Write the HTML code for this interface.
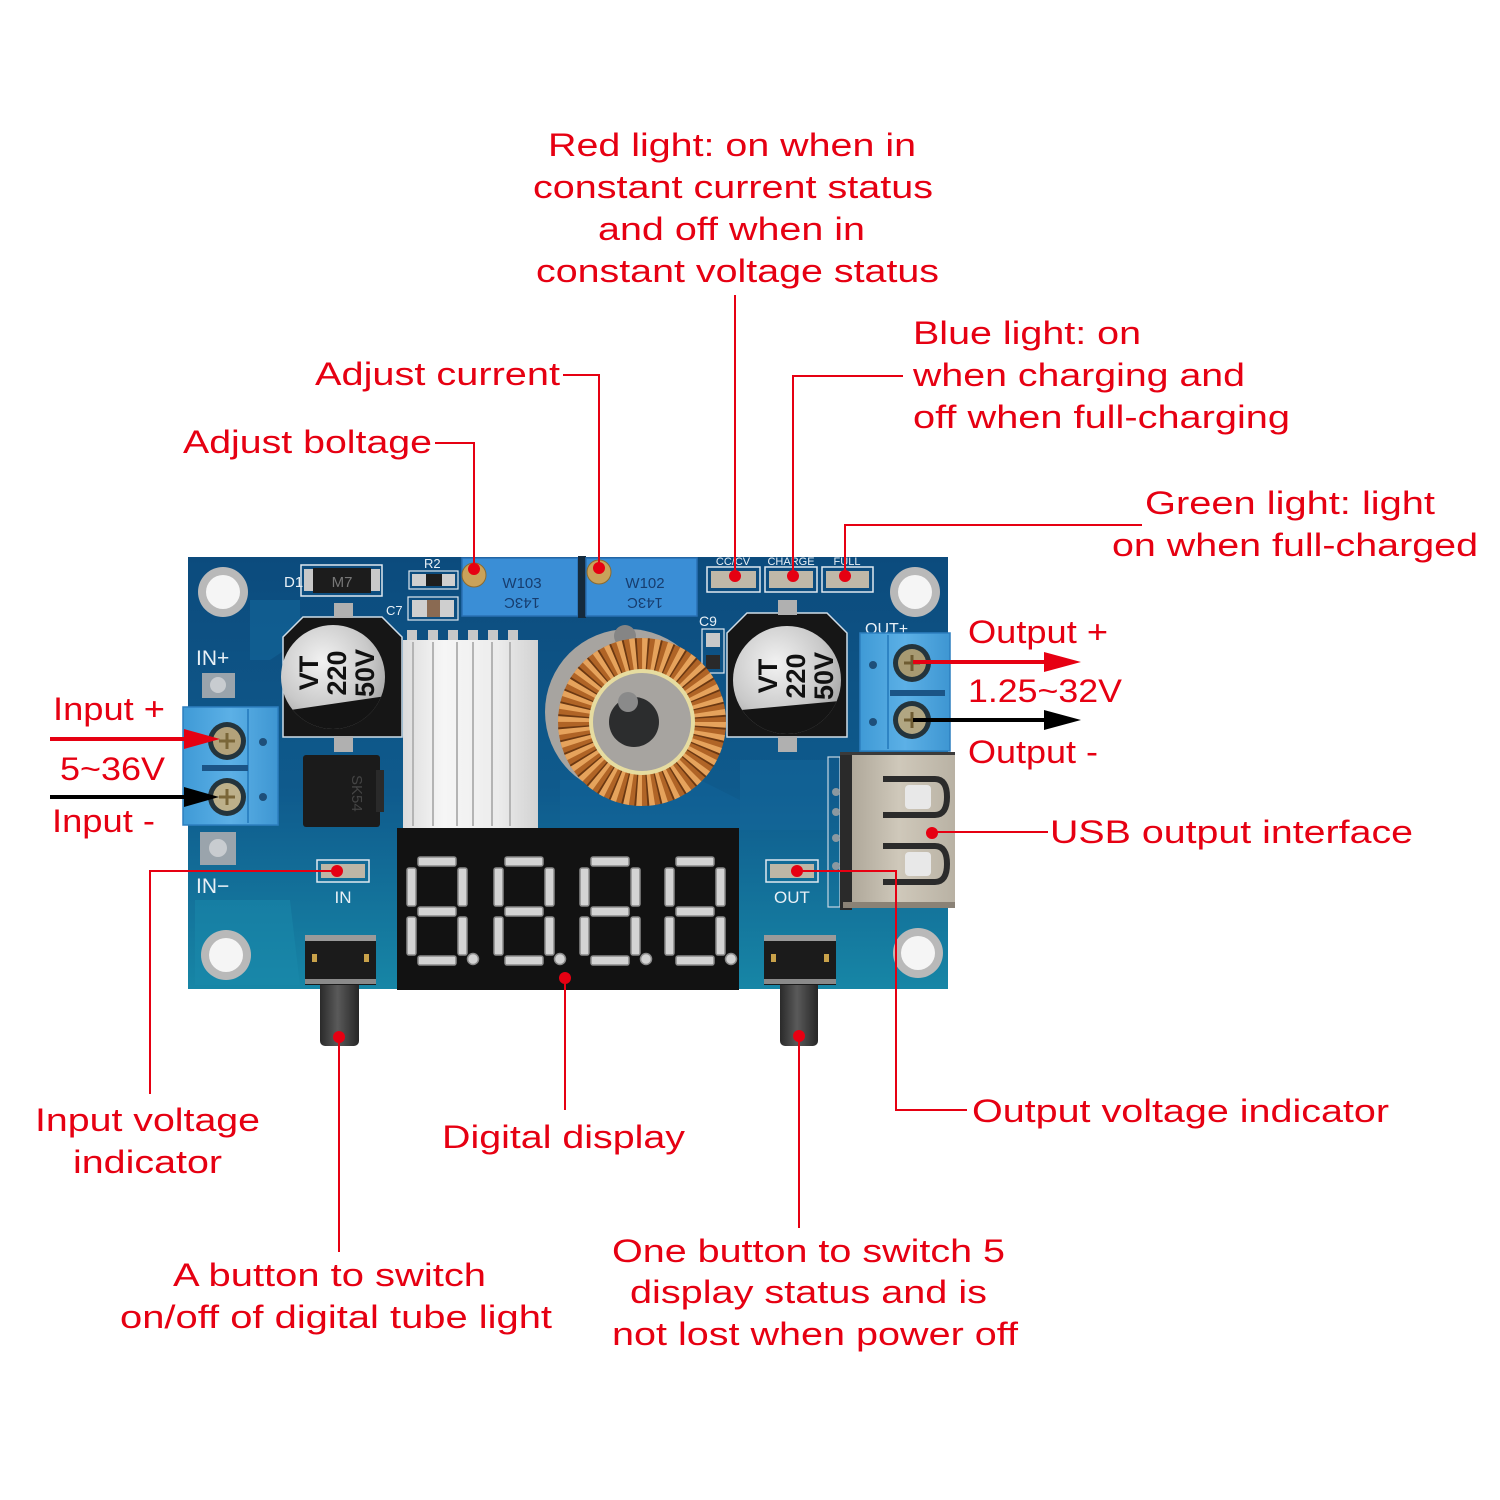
<!DOCTYPE html>
<html>
<head>
<meta charset="utf-8">
<style>
  html,body{margin:0;padding:0;background:#ffffff;}
  svg{display:block;}
  .lbl{font-family:"Liberation Sans",Arial,sans-serif;font-size:32px;fill:#e60012;}
  .silk{font-family:"Liberation Sans",Arial,sans-serif;fill:#e8f0f6;}
</style>
</head>
<body>
<svg width="1500" height="1500" viewBox="0 0 1500 1500" xmlns="http://www.w3.org/2000/svg">
  <defs>
    <linearGradient id="pcb" x1="0" y1="0" x2="0" y2="1">
      <stop offset="0" stop-color="#0c4b7d"/>
      <stop offset="0.55" stop-color="#0f5b8d"/>
      <stop offset="1" stop-color="#1786a6"/>
    </linearGradient>
    <radialGradient id="capg" cx="0.4" cy="0.35" r="0.75">
      <stop offset="0" stop-color="#f2f2f2"/>
      <stop offset="0.6" stop-color="#c9c9c9"/>
      <stop offset="1" stop-color="#9a9a9a"/>
    </radialGradient>
    <linearGradient id="sink" x1="0" y1="0" x2="1" y2="0">
      <stop offset="0" stop-color="#dcdcdc"/>
      <stop offset="0.3" stop-color="#f6f6f6"/>
      <stop offset="0.7" stop-color="#ececec"/>
      <stop offset="1" stop-color="#d2d2d2"/>
    </linearGradient>
    <linearGradient id="usb" x1="0" y1="0" x2="1" y2="0">
      <stop offset="0" stop-color="#a9a294"/>
      <stop offset="0.5" stop-color="#cfc8ba"/>
      <stop offset="1" stop-color="#b9b2a4"/>
    </linearGradient>
    <linearGradient id="post" x1="0" y1="0" x2="1" y2="0">
      <stop offset="0" stop-color="#2a2a2a"/>
      <stop offset="0.45" stop-color="#5a5a5a"/>
      <stop offset="1" stop-color="#262626"/>
    </linearGradient>
    <linearGradient id="term" x1="0" y1="0" x2="1" y2="0">
      <stop offset="0" stop-color="#3f9ad6"/>
      <stop offset="0.5" stop-color="#5cb0e6"/>
      <stop offset="1" stop-color="#3e96d2"/>
    </linearGradient>
    <clipPath id="capL"><circle cx="333" cy="677" r="52"/></clipPath>
    <clipPath id="capR"><circle cx="787" cy="680" r="54"/></clipPath>
  </defs>

  <!-- ================= PCB ================= -->
  <rect x="188" y="557" width="760" height="432" fill="url(#pcb)"/>
  <!-- some lighter copper areas -->
  <path d="M250 600 L300 600 L300 640 L270 660 L250 660 Z" fill="#13659a" opacity="0.6"/>
  <path d="M560 830 L740 830 L740 800 L700 780 L560 780 Z" fill="#12639a" opacity="0.5"/>
  <path d="M740 760 L830 760 L830 830 L740 830 Z" fill="#13679c" opacity="0.5"/>
  <path d="M195 900 L290 900 L300 985 L195 985 Z" fill="#1a8aab" opacity="0.5"/>

  <!-- mounting holes -->
  <g>
    <circle cx="223" cy="592" r="25" fill="#b9b9b9"/><circle cx="223" cy="592" r="17" fill="#f5f5f5"/>
    <circle cx="915" cy="592" r="25" fill="#b9b9b9"/><circle cx="915" cy="592" r="17" fill="#f5f5f5"/>
    <circle cx="226" cy="955" r="25" fill="#b9b9b9"/><circle cx="226" cy="955" r="17" fill="#f5f5f5"/>
    <circle cx="918" cy="953" r="25" fill="#b9b9b9"/><circle cx="918" cy="953" r="17" fill="#f5f5f5"/>
  </g>

  <!-- D1 diode -->
  <text class="silk" x="284" y="587" font-size="15">D1</text>
  <rect x="301" y="565" width="81" height="31" fill="none" stroke="#dfe8ef" stroke-width="1.5"/>
  <rect x="304" y="569" width="12" height="22" fill="#c8c8c8"/>
  <rect x="368" y="569" width="12" height="22" fill="#c8c8c8"/>
  <rect x="313" y="568" width="58" height="25" fill="#1c1c1c"/>
  <text x="342" y="587" font-family="Liberation Sans,Arial,sans-serif" font-size="15" fill="#777" text-anchor="middle">M7</text>

  <!-- R2 / C7 -->
  <text class="silk" x="424" y="568" font-size="13">R2</text>
  <rect x="409" y="571" width="49" height="18" fill="none" stroke="#dfe8ef" stroke-width="1.2"/>
  <rect x="412" y="574" width="43" height="12" fill="#cfcfcf"/>
  <rect x="426" y="574" width="16" height="12" fill="#1e1e1e"/>
  <text class="silk" x="386" y="615" font-size="13">C7</text>
  <rect x="408" y="597" width="50" height="23" fill="none" stroke="#dfe8ef" stroke-width="1.2"/>
  <rect x="412" y="600" width="42" height="17" fill="#cfcfcf"/>
  <rect x="427" y="600" width="13" height="17" fill="#8a6a52"/>

  <!-- potentiometers -->
  <rect x="462" y="558" width="116" height="58" fill="#3a8ed6" stroke="#2a70b4" stroke-width="1.5"/>
  <rect x="578" y="556" width="8" height="62" fill="#152a3c"/>
  <rect x="586" y="558" width="111" height="58" fill="#3a8ed6" stroke="#2a70b4" stroke-width="1.5"/>
  <text x="522" y="588" font-family="Liberation Sans,Arial,sans-serif" font-size="15" fill="#173d6e" text-anchor="middle">W103</text>
  <text transform="translate(522,598) rotate(180)" font-family="Liberation Sans,Arial,sans-serif" font-size="15" fill="#173d6e" text-anchor="middle">143C</text>
  <text x="645" y="588" font-family="Liberation Sans,Arial,sans-serif" font-size="15" fill="#173d6e" text-anchor="middle">W102</text>
  <text transform="translate(645,598) rotate(180)" font-family="Liberation Sans,Arial,sans-serif" font-size="15" fill="#173d6e" text-anchor="middle">143C</text>
  <circle cx="474" cy="575" r="12" fill="#c9a25a" stroke="#8a6a30" stroke-width="1"/>
  <circle cx="599" cy="572" r="12" fill="#c9a25a" stroke="#8a6a30" stroke-width="1"/>

  <!-- LED pads top -->
  <text class="silk" x="733" y="565" font-size="11" text-anchor="middle">CC/CV</text>
  <text class="silk" x="791" y="565" font-size="11" text-anchor="middle">CHARGE</text>
  <text class="silk" x="847" y="565" font-size="11" text-anchor="middle">FULL</text>
  <g fill="none" stroke="#dfe8ef" stroke-width="1.5">
    <rect x="707" y="567" width="53" height="25"/>
    <rect x="765" y="567" width="52" height="25"/>
    <rect x="822" y="567" width="51" height="25"/>
  </g>
  <rect x="711" y="571" width="45" height="17" fill="#bfb8a8"/>
  <rect x="769" y="571" width="44" height="17" fill="#bfb8a8"/>
  <rect x="826" y="571" width="43" height="17" fill="#bfb8a8"/>

  <!-- C9 -->
  <text class="silk" x="699" y="626" font-size="14">C9</text>
  <rect x="702" y="629" width="22" height="44" fill="none" stroke="#dfe8ef" stroke-width="1.2"/>
  <rect x="706" y="633" width="14" height="14" fill="#c9c9c9"/>
  <rect x="706" y="655" width="14" height="14" fill="#2a2a2a"/>

  <!-- IN+ / OUT+ labels, pads -->
  <text class="silk" x="196" y="665" font-size="21">IN+</text>
  <rect x="202" y="673" width="33" height="25" fill="#9aa4ac"/>
  <circle cx="218" cy="685" r="8" fill="#c8ccd0"/>
  <text class="silk" x="865" y="634" font-size="16">OUT+</text>

  <!-- left capacitor -->
  <path d="M283 637 L303 617 L382 617 L402 637 L402 737 L283 737 Z" fill="#161616" stroke="#cfdde8" stroke-width="1.5"/>
  <rect x="334" y="603" width="19" height="15" fill="#b0b0b0"/>
  <rect x="334" y="736" width="19" height="16" fill="#b0b0b0"/>
  <circle cx="333" cy="677" r="52" fill="url(#capg)"/>
  <polygon clip-path="url(#capL)" points="270,713 400,694 400,740 270,740" fill="#141414"/>
  <g transform="translate(333,677) rotate(-90)" font-family="Liberation Sans,Arial,sans-serif" font-weight="bold" font-size="27" fill="#111" text-anchor="middle">
    <text x="4" y="-15">VT</text>
    <text x="4" y="13">220</text>
    <text x="4" y="41">50V</text>
  </g>

  <!-- right capacitor -->
  <path d="M727 633 L747 613 L827 613 L847 633 L847 737 L727 737 Z" fill="#161616" stroke="#cfdde8" stroke-width="1.5"/>
  <rect x="778" y="600" width="19" height="15" fill="#b0b0b0"/>
  <rect x="778" y="736" width="19" height="16" fill="#b0b0b0"/>
  <circle cx="787" cy="680" r="54" fill="url(#capg)"/>
  <polygon clip-path="url(#capR)" points="720,712 850,700 850,745 720,745" fill="#141414"/>
  <g transform="translate(790,680) rotate(-90)" font-family="Liberation Sans,Arial,sans-serif" font-weight="bold" font-size="27" fill="#111" text-anchor="middle">
    <text x="4" y="-13">VT</text>
    <text x="4" y="15">220</text>
    <text x="4" y="43">50V</text>
  </g>

  <!-- heatsink -->
  <g fill="#c8c8c8">
    <rect x="407" y="630" width="10" height="10"/><rect x="428" y="630" width="10" height="10"/>
    <rect x="448" y="630" width="10" height="10"/><rect x="468" y="630" width="10" height="10"/>
    <rect x="488" y="630" width="10" height="10"/><rect x="508" y="630" width="10" height="10"/>
  </g>
  <rect x="403" y="640" width="135" height="188" fill="url(#sink)"/>
  <g stroke="#b4b4b4" stroke-width="2">
    <line x1="413" y1="642" x2="413" y2="826"/>
    <line x1="433" y1="642" x2="433" y2="826"/>
    <line x1="457" y1="642" x2="457" y2="826"/>
    <line x1="473" y1="642" x2="473" y2="826"/>
    <line x1="492" y1="642" x2="492" y2="826"/>
    <line x1="510" y1="642" x2="510" y2="826"/>
  </g>

  <!-- SK54 diode -->
  <rect x="303" y="755" width="77" height="72" rx="3" fill="#1b1b1b"/>
  <rect x="376" y="770" width="8" height="42" fill="#2a2a2a"/>
  <text transform="translate(352,775) rotate(90)" font-family="Liberation Sans,Arial,sans-serif" font-size="15" fill="#444">SK54</text>

  <!-- toroid inductor -->
  <circle cx="628" cy="712" r="83" fill="#a7a4a0"/>
  <circle cx="625" cy="636" r="11" fill="#858585"/>
  <circle cx="642" cy="722" r="68" fill="none" stroke="#b06426" stroke-width="32"/>
  <circle cx="642" cy="722" r="68" fill="none" stroke="#e6a35c" stroke-width="32" stroke-dasharray="5 5.68"/>
  <circle cx="642" cy="722" r="68" fill="none" stroke="#6b3812" stroke-width="32" stroke-dasharray="1.6 9.08" stroke-dashoffset="6"/>
  <circle cx="642" cy="722" r="51" fill="none" stroke="#e6dca0" stroke-width="4"/>
  <circle cx="634" cy="722" r="25" fill="#2c2d2e"/>
  <circle cx="628" cy="702" r="10" fill="#8a8a8a"/>

  <!-- left terminal block -->
  <rect x="183" y="707" width="95" height="118" fill="url(#term)" stroke="#2d7fbf" stroke-width="1.5"/>
  <line x1="248" y1="709" x2="248" y2="823" stroke="#2e84c4" stroke-width="2"/>
  <rect x="202" y="765" width="46" height="6" fill="#1b5486"/>
  <circle cx="263" cy="742" r="4" fill="#1e4f7a"/>
  <circle cx="263" cy="797" r="4" fill="#1e4f7a"/>
  <circle cx="227" cy="741" r="19" fill="#24343c"/>
  <circle cx="227" cy="741" r="14" fill="#b3a27a"/>
  <path d="M219 741 H235 M227 733 V749" stroke="#7a6638" stroke-width="3"/>
  <circle cx="227" cy="797" r="19" fill="#24343c"/>
  <circle cx="227" cy="797" r="14" fill="#bdb08a"/>
  <path d="M219 797 H235 M227 789 V805" stroke="#7a6638" stroke-width="3"/>

  <!-- right terminal block -->
  <rect x="860" y="633" width="90" height="118" fill="url(#term)" stroke="#2d7fbf" stroke-width="1.5"/>
  <line x1="888" y1="635" x2="888" y2="749" stroke="#2e84c4" stroke-width="2"/>
  <rect x="890" y="690" width="55" height="6" fill="#1b5486"/>
  <circle cx="873" cy="665" r="4" fill="#1e4f7a"/>
  <circle cx="873" cy="722" r="4" fill="#1e4f7a"/>
  <circle cx="912" cy="663" r="19" fill="#24343c"/>
  <circle cx="912" cy="663" r="14" fill="#a89a72"/>
  <path d="M904 663 H920 M912 655 V671" stroke="#6e5c32" stroke-width="3"/>
  <circle cx="912" cy="720" r="19" fill="#24343c"/>
  <circle cx="912" cy="720" r="14" fill="#b1a682"/>
  <path d="M904 720 H920 M912 712 V728" stroke="#6e5c32" stroke-width="3"/>

  <!-- USB -->
  <rect x="828" y="757" width="12" height="150" fill="none" stroke="#c6d6e2" stroke-width="1.2"/>
  <g fill="#8b98a0"><circle cx="836" cy="792" r="4"/><circle cx="836" cy="812" r="4"/><circle cx="836" cy="838" r="4"/><circle cx="836" cy="866" r="4"/></g>
  <rect x="840" y="752" width="115" height="8" fill="#3a3a3a"/>
  <rect x="843" y="755" width="112" height="152" fill="url(#usb)"/>
  <rect x="840" y="755" width="12" height="155" fill="#2a2a2a"/>
  <path d="M883 779 H935 Q947 779 947 797 Q947 815 935 815 H883" fill="none" stroke="#2b2b2b" stroke-width="6"/>
  <rect x="905" y="785" width="26" height="24" rx="4" fill="#e8e8e8"/>
  <path d="M883 846 H935 Q947 846 947 864 Q947 882 935 882 H883" fill="none" stroke="#2b2b2b" stroke-width="6"/>
  <rect x="905" y="852" width="26" height="24" rx="4" fill="#e8e8e8"/>
  <rect x="843" y="902" width="112" height="6" fill="#8a8276"/>

  <!-- IN- pad, LEDs, labels -->
  <rect x="200" y="832" width="36" height="33" fill="#9aa4ac"/>
  <circle cx="218" cy="848" r="9" fill="#c8ccd0"/>
  <text class="silk" x="196" y="893" font-size="21">IN−</text>
  <rect x="317" y="860" width="52" height="22" fill="none" stroke="#dfe8ef" stroke-width="1.5"/>
  <rect x="321" y="864" width="44" height="14" fill="#bdb6a6"/>
  <text class="silk" x="343" y="903" font-size="17" text-anchor="middle">IN</text>
  <rect x="766" y="860" width="52" height="22" fill="none" stroke="#dfe8ef" stroke-width="1.5"/>
  <rect x="770" y="864" width="44" height="14" fill="#bdb6a6"/>
  <text class="silk" x="792" y="903" font-size="17" text-anchor="middle">OUT</text>

  <!-- display -->
  <rect x="397" y="828" width="342" height="162" fill="#121212"/>
  <g fill="#d3d3d3" stroke="#8a8a8a" stroke-width="1.5">
    <g transform="translate(407,857)">
      <rect x="11" y="0" width="38" height="9" rx="2"/><rect x="51" y="11" width="9" height="38" rx="2"/>
      <rect x="51" y="60" width="9" height="38" rx="2"/><rect x="11" y="99" width="38" height="9" rx="2"/>
      <rect x="0" y="60" width="9" height="38" rx="2"/><rect x="0" y="11" width="9" height="38" rx="2"/>
      <rect x="11" y="50" width="38" height="9" rx="2"/><circle cx="66" cy="102" r="5.5"/>
    </g>
    <g transform="translate(494,857)">
      <rect x="11" y="0" width="38" height="9" rx="2"/><rect x="51" y="11" width="9" height="38" rx="2"/>
      <rect x="51" y="60" width="9" height="38" rx="2"/><rect x="11" y="99" width="38" height="9" rx="2"/>
      <rect x="0" y="60" width="9" height="38" rx="2"/><rect x="0" y="11" width="9" height="38" rx="2"/>
      <rect x="11" y="50" width="38" height="9" rx="2"/><circle cx="66" cy="102" r="5.5"/>
    </g>
    <g transform="translate(580,857)">
      <rect x="11" y="0" width="38" height="9" rx="2"/><rect x="51" y="11" width="9" height="38" rx="2"/>
      <rect x="51" y="60" width="9" height="38" rx="2"/><rect x="11" y="99" width="38" height="9" rx="2"/>
      <rect x="0" y="60" width="9" height="38" rx="2"/><rect x="0" y="11" width="9" height="38" rx="2"/>
      <rect x="11" y="50" width="38" height="9" rx="2"/><circle cx="66" cy="102" r="5.5"/>
    </g>
    <g transform="translate(665,857)">
      <rect x="11" y="0" width="38" height="9" rx="2"/><rect x="51" y="11" width="9" height="38" rx="2"/>
      <rect x="51" y="60" width="9" height="38" rx="2"/><rect x="11" y="99" width="38" height="9" rx="2"/>
      <rect x="0" y="60" width="9" height="38" rx="2"/><rect x="0" y="11" width="9" height="38" rx="2"/>
      <rect x="11" y="50" width="38" height="9" rx="2"/><circle cx="66" cy="102" r="5.5"/>
    </g>
  </g>

  <!-- buttons -->
  <rect x="320" y="980" width="39" height="66" rx="5" fill="url(#post)"/>
  <rect x="305" y="935" width="71" height="50" fill="#1b1b1b"/>
  <rect x="305" y="935" width="71" height="6" fill="#9a9a9a"/>
  <rect x="305" y="979" width="71" height="5" fill="#8a8a8a"/>
  <rect x="312" y="954" width="5" height="8" fill="#c9a24a"/><rect x="364" y="954" width="5" height="8" fill="#c9a24a"/>
  <rect x="780" y="980" width="38" height="66" rx="5" fill="url(#post)"/>
  <rect x="764" y="935" width="72" height="50" fill="#1b1b1b"/>
  <rect x="764" y="935" width="72" height="6" fill="#9a9a9a"/>
  <rect x="764" y="979" width="72" height="5" fill="#8a8a8a"/>
  <rect x="771" y="954" width="5" height="8" fill="#c9a24a"/><rect x="824" y="954" width="5" height="8" fill="#c9a24a"/>

  <!-- ================= LEADER LINES ================= -->
  <g fill="none" stroke="#e60012" stroke-width="2">
    <line x1="735" y1="295" x2="735" y2="576"/>
    <polyline points="903,376 793,376 793,576"/>
    <polyline points="1142,525 845,525 845,576"/>
    <polyline points="563,375 599,375 599,568"/>
    <polyline points="435,443 474,443 474,569"/>
    <line x1="932" y1="832" x2="1048" y2="832"/>
    <polyline points="797,871 896,871 896,1110 967,1110"/>
    <polyline points="337,871 150,871 150,1094"/>
    <line x1="565" y1="978" x2="565" y2="1110"/>
    <line x1="339" y1="1037" x2="339" y2="1252"/>
    <line x1="799" y1="1036" x2="799" y2="1228"/>
  </g>
  <g fill="#e60012">
    <circle cx="474" cy="569" r="6"/><circle cx="599" cy="568" r="6"/>
    <circle cx="735" cy="576" r="6"/><circle cx="793" cy="576" r="6"/><circle cx="845" cy="576" r="6"/>
    <circle cx="932" cy="833" r="6"/><circle cx="337" cy="871" r="6"/><circle cx="797" cy="871" r="6"/>
    <circle cx="565" cy="978" r="6"/><circle cx="339" cy="1037" r="6"/><circle cx="799" cy="1036" r="6"/>
  </g>

  <!-- arrows -->
  <line x1="50" y1="739" x2="190" y2="739" stroke="#e60012" stroke-width="4"/>
  <polygon points="184,729 220,739 184,749" fill="#e60012"/>
  <line x1="50" y1="797" x2="190" y2="797" stroke="#000" stroke-width="4"/>
  <polygon points="184,787 219,797 184,807" fill="#000"/>
  <line x1="913" y1="662" x2="1050" y2="662" stroke="#e60012" stroke-width="4"/>
  <polygon points="1044,652 1081,662 1044,672" fill="#e60012"/>
  <line x1="913" y1="720" x2="1050" y2="720" stroke="#000" stroke-width="4"/>
  <polygon points="1044,710 1081,720 1044,730" fill="#000"/>

  <!-- ================= LABELS ================= -->
  <g class="lbl">
    <text x="548" y="156" textLength="368" lengthAdjust="spacingAndGlyphs">Red light: on when in</text>
    <text x="533" y="198" textLength="400" lengthAdjust="spacingAndGlyphs">constant current status</text>
    <text x="598" y="240" textLength="267" lengthAdjust="spacingAndGlyphs">and off when in</text>
    <text x="536" y="282" textLength="403" lengthAdjust="spacingAndGlyphs">constant voltage status</text>

    <text x="315" y="385" textLength="245" lengthAdjust="spacingAndGlyphs">Adjust current</text>
    <text x="183" y="453" textLength="249" lengthAdjust="spacingAndGlyphs">Adjust boltage</text>

    <text x="913" y="344" textLength="228" lengthAdjust="spacingAndGlyphs">Blue light: on</text>
    <text x="913" y="386" textLength="332" lengthAdjust="spacingAndGlyphs">when charging and</text>
    <text x="913" y="428" textLength="377" lengthAdjust="spacingAndGlyphs">off when full-charging</text>

    <text x="1145" y="514" textLength="290" lengthAdjust="spacingAndGlyphs">Green light: light</text>
    <text x="1112" y="556" textLength="366" lengthAdjust="spacingAndGlyphs">on when full-charged</text>

    <text x="968" y="643" textLength="140" lengthAdjust="spacingAndGlyphs">Output +</text>
    <text x="968" y="702" textLength="154" lengthAdjust="spacingAndGlyphs">1.25~32V</text>
    <text x="968" y="763" textLength="130" lengthAdjust="spacingAndGlyphs">Output -</text>

    <text x="1050" y="843" textLength="363" lengthAdjust="spacingAndGlyphs">USB output interface</text>
    <text x="972" y="1122" textLength="417" lengthAdjust="spacingAndGlyphs">Output voltage indicator</text>

    <text x="442" y="1148" textLength="243" lengthAdjust="spacingAndGlyphs">Digital display</text>

    <text x="35" y="1131" textLength="225" lengthAdjust="spacingAndGlyphs">Input voltage</text>
    <text x="73" y="1173" textLength="149" lengthAdjust="spacingAndGlyphs">indicator</text>

    <text x="173" y="1286" textLength="313" lengthAdjust="spacingAndGlyphs">A button to switch</text>
    <text x="120" y="1328" textLength="432" lengthAdjust="spacingAndGlyphs">on/off of digital tube light</text>

    <text x="612" y="1262" textLength="393" lengthAdjust="spacingAndGlyphs">One button to switch 5</text>
    <text x="630" y="1303" textLength="357" lengthAdjust="spacingAndGlyphs">display status and is</text>
    <text x="612" y="1345" textLength="406" lengthAdjust="spacingAndGlyphs">not lost when power off</text>

    <text x="53" y="720" textLength="112" lengthAdjust="spacingAndGlyphs">Input +</text>
    <text x="60" y="780" textLength="105" lengthAdjust="spacingAndGlyphs">5~36V</text>
    <text x="52" y="832" textLength="103" lengthAdjust="spacingAndGlyphs">Input -</text>
  </g>
</svg>
</body>
</html>
